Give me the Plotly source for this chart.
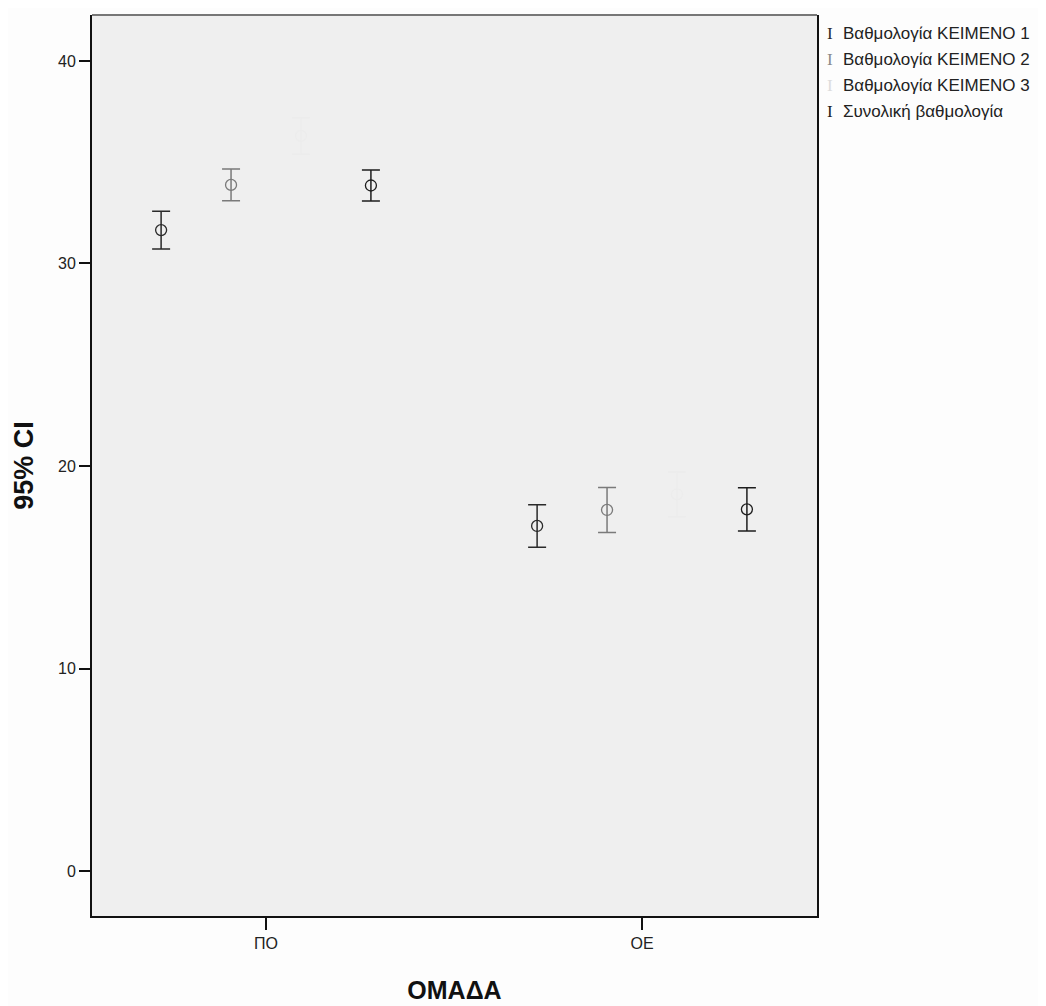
import plotly.graph_objects as go

groups = ["ΠΟ", "ΟΕ"]
series_names = ["Βαθμολογία ΚΕΙΜΕΝΟ 1", "Βαθμολογία ΚΕΙΜΕΝΟ 2",
                "Βαθμολογία ΚΕΙΜΕΝΟ 3", "Συνολική βαθμολογία"]
means_text1 = [31.65, 17.04]
err_text1 = [0.93, 1.05]
means_text2 = [33.88, 17.83]
err_text2 = [0.78, 1.11]
means_text3 = [36.3, 18.6]
err_text3 = [0.9, 1.1]
means_total = [33.85, 17.86]
err_total = [0.77, 1.07]
y_ticks = [0, 10, 20, 30, 40]

series_means = [means_text1, means_text2, means_text3, means_total]
series_errs = [err_text1, err_text2, err_text3, err_total]
colors = ["#2a2a2a", "#7a7a7a", "#ececec", "#1e1e1e"]
legend_colors = ["#2a2a2a", "#8a8a8a", "#dcdcdc", "#1e1e1e"]
offsets = [-0.279, -0.093, 0.093, 0.279]

FONT = "Liberation Sans, Arial, sans-serif"

# page offset of the figure (body margin)
OFF = 8
PL, PR, PT, PB = 92, 817, 15, 916  # plot area in page pixels

fig = go.Figure()
for name, m, e, c, off in zip(series_names, series_means, series_errs, colors, offsets):
    fig.add_trace(go.Scatter(
        x=[i + off for i in range(len(groups))],
        y=m,
        mode="markers",
        name=name,
        marker=dict(symbol="circle-open", size=11, color=c, line=dict(width=1.3, color=c)),
        error_y=dict(type="data", array=e, visible=True, color=c, thickness=1.5, width=9),
        showlegend=False,
    ))

# legend drawn as annotations
legend_y0 = 33
legend_dy = 26.3
for k, (name, c) in enumerate(zip(series_names, legend_colors)):
    ypx = legend_y0 + k * legend_dy
    yp = 1 - (ypx - PT) / (PB - PT)
    fig.add_annotation(xref="paper", yref="paper", x=(830 - PL) / (PR - PL), y=yp,
                       text="I", showarrow=False, xanchor="center", yanchor="middle",
                       font=dict(family="Liberation Serif, Times New Roman, serif", size=17, color=c))
    fig.add_annotation(xref="paper", yref="paper", x=(841 - PL) / (PR - PL), y=yp,
                       text=name, showarrow=False, xanchor="left", yanchor="middle",
                       font=dict(family=FONT, size=17, color="#222222"))

# top border (gray)
fig.add_shape(type="line", xref="paper", yref="paper", x0=0, x1=1, y0=1, y1=1,
              line=dict(color="#777777", width=2))

W, H = 1046 - OFF, 1006 - OFF
fig.update_layout(
    width=W, height=H,
    margin=dict(l=PL - OFF, r=W - (PR - OFF), t=PT - OFF, b=H - (PB - OFF)),
    paper_bgcolor="#fdfdfd",
    plot_bgcolor="#efefef",
    font=dict(family=FONT, size=16, color="#222222"),
)
fig.update_xaxes(
    range=[-0.4628, 1.4654],
    tickvals=list(range(len(groups))), ticktext=groups,
    ticks="outside", ticklen=12, tickwidth=1.5, tickcolor="#111111",
    showline=True, linecolor="#111111", linewidth=2, mirror=False,
    showgrid=False, zeroline=False,
    tickfont=dict(size=16, family=FONT, color="#222222"),
    title=dict(text="<b>ΟΜΑΔΑ</b>", font=dict(size=25, family=FONT, color="#111111"), standoff=30),
)
fig.update_yaxes(
    range=[-2.22, 42.27],
    tickvals=y_ticks,
    ticks="outside", ticklen=11, tickwidth=1.5, tickcolor="#111111",
    showline=True, linecolor="#111111", linewidth=2, mirror=True,
    showgrid=False, zeroline=False,
    tickfont=dict(size=16, family=FONT, color="#222222"),
    title=dict(text="<b>95% CI</b>", font=dict(size=27, family=FONT, color="#111111"), standoff=17),
)

fig.write_html("out.html")
